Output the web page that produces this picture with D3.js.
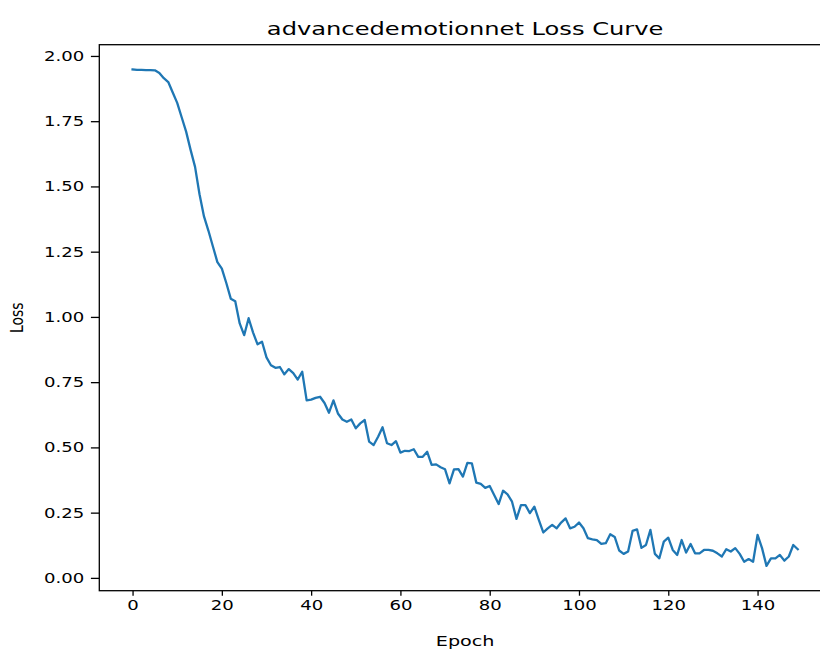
<!DOCTYPE html>
<html>
<head>
<meta charset="utf-8">
<script src="https://cdn.jsdelivr.net/npm/d3@7"></script>
<style>
  body { margin: 0; background: #fff; }
  svg { display: block; font-family: "DejaVu Sans", sans-serif; }
</style>
</head>
<body>
<div id="chart"></div>
<script>

// LOSS PER EPOCH
var lossValues = [
    1.948, 1.947, 1.947, 1.946, 1.946, 1.945, 1.935, 1.915, 1.900, 1.860,
    1.820, 1.765, 1.710, 1.640, 1.575, 1.470, 1.385, 1.330, 1.270, 1.210,
    1.185, 1.130, 1.070, 1.060, 0.975, 0.930, 0.995, 0.940, 0.895, 0.905,
    0.845, 0.815, 0.805, 0.808, 0.780, 0.800, 0.785, 0.760, 0.790, 0.680,
    0.683, 0.690, 0.694, 0.670, 0.633, 0.680, 0.630, 0.607, 0.598, 0.607,
    0.573, 0.592, 0.605, 0.522, 0.509, 0.541, 0.577, 0.516, 0.509, 0.524,
    0.480, 0.487, 0.486, 0.493, 0.464, 0.464, 0.483, 0.433, 0.435, 0.424,
    0.416, 0.362, 0.416, 0.417, 0.388, 0.441, 0.439, 0.365, 0.360, 0.345,
    0.352, 0.318, 0.283, 0.334, 0.320, 0.292, 0.226, 0.279, 0.279, 0.248,
    0.273, 0.222, 0.174, 0.190, 0.203, 0.190, 0.212, 0.228, 0.190, 0.196,
    0.212, 0.190, 0.152, 0.148, 0.145, 0.130, 0.133, 0.167, 0.157, 0.105,
    0.092, 0.101, 0.180, 0.186, 0.115, 0.126, 0.184, 0.092, 0.075, 0.139,
    0.154, 0.107, 0.088, 0.145, 0.097, 0.130, 0.094, 0.094, 0.107, 0.107,
    0.104, 0.094, 0.082, 0.110, 0.101, 0.114, 0.092, 0.062, 0.072, 0.062,
    0.165, 0.114, 0.046, 0.075, 0.075, 0.088, 0.066, 0.082, 0.126, 0.110
];
var epochs = lossValues.map(function(d, i) { return i; });

var xTicks = [0, 20, 40, 60, 80, 100, 120, 140];
var yTicks = [0.00, 0.25, 0.50, 0.75, 1.00, 1.25, 1.50, 1.75, 2.00];

var titleText = "advancedemotionnet Loss Curve";
var xLabel = "Epoch";
var yLabel = "Loss";

// DIMENSIONS (THE REFERENCE IS STRETCHED SIDEWAYS, SO TEXT IS WIDENED)
var svgWidth = 820;
var svgHeight = 657;
var margin = { top: 44.7, left: 99.3 };
var width = 731.7;
var height = 546;
var stretchX = 1.3;

var svg = d3.select("#chart")
    .append("svg")
    .attr("width", svgWidth)
    .attr("height", svgHeight);

var chartGroup = svg.append("g")
    .attr("transform", `translate(${margin.left}, ${margin.top})`);

// WIDEN A TEXT ALONG ITS BASELINE
function widen(sel, k) {
    sel.each(function() {
        var len = this.getComputedTextLength();
        d3.select(this)
            .attr("textLength", len * k)
            .attr("lengthAdjust", "spacingAndGlyphs");
    });
}

// SCALES (MATPLOTLIB STYLE 5% PADDING)
var xMin = d3.min(epochs), xMax = d3.max(epochs);
var xPad = (xMax - xMin) * 0.05;
var x = d3.scaleLinear()
    .domain([xMin - xPad, xMax + xPad])
    .range([0, width]);

var yMin = d3.min(lossValues), yMax = d3.max(lossValues);
var yPad = (yMax - yMin) * 0.05;
var y = d3.scaleLinear()
    .domain([yMin - yPad, yMax + yPad])
    .range([height, 0]);

// AXES
var xAxis = chartGroup.append("g")
    .attr("transform", `translate(0, ${height})`)
    .call(d3.axisBottom(x).tickValues(xTicks).tickSizeOuter(0).tickSize(5).tickPadding(4.8)
        .tickFormat(d3.format("d")));

var yAxis = chartGroup.append("g")
    .call(d3.axisLeft(y).tickValues(yTicks).tickSizeOuter(0).tickSize(8.4).tickPadding(6.6)
        .tickFormat(d3.format(".2f")));

[xAxis, yAxis].forEach(function(a) {
    a.select(".domain").remove();
    a.selectAll(".tick line").attr("stroke", "#000").attr("stroke-width", 1.3);
    a.selectAll(".tick text")
        .attr("fill", "#000")
        .style("font-size", "13.9px")
        .style("font-family", "DejaVu Sans, sans-serif")
        .call(widen, stretchX);
});

// FRAME
chartGroup.append("rect")
    .attr("width", width)
    .attr("height", height)
    .attr("fill", "none")
    .attr("stroke", "#000")
    .attr("stroke-width", 1.3);

// LOSS LINE
var line = d3.line()
    .x(function(d, i) { return x(epochs[i]); })
    .y(function(d) { return y(d); });

chartGroup.append("path")
    .datum(lossValues)
    .attr("d", line)
    .attr("fill", "none")
    .attr("stroke", "#1f77b4")
    .attr("stroke-width", 2.3)
    .attr("stroke-linejoin", "round")
    .attr("stroke-linecap", "square");

// TITLE AND AXIS LABELS
chartGroup.append("text")
    .attr("x", width / 2)
    .attr("y", -9.5)
    .attr("text-anchor", "middle")
    .style("font-size", "17.5px")
    .text(titleText)
    .call(widen, 1.38);

chartGroup.append("text")
    .attr("x", width / 2)
    .attr("y", height + 55)
    .attr("text-anchor", "middle")
    .style("font-size", "13.9px")
    .text(xLabel)
    .call(widen, 1.38);

chartGroup.append("text")
    .attr("transform", `translate(${-76}, ${height / 2}) scale(${stretchX}, 1) rotate(-90)`)
    .attr("text-anchor", "middle")
    .style("font-size", "13.9px")
    .text(yLabel);

</script>
</body>
</html>
